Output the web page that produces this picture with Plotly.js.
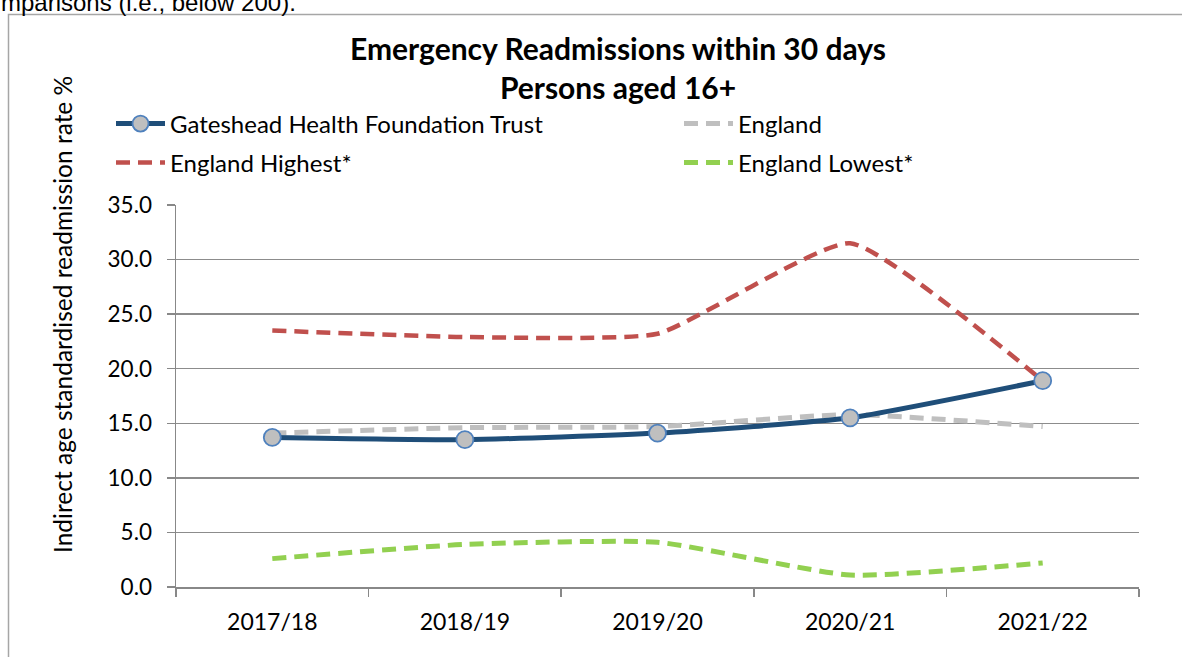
<!DOCTYPE html>
<html>
<head>
<meta charset="utf-8">
<script src="https://cdn.plot.ly/plotly-3.0.1.min.js"></script>
<style>html,body{margin:0;padding:0;background:#fff;}#chart{width:1182px;height:657px;}</style>
</head>
<body>
<div id="chart"></div>
<script>
const categories = ["2017/18", "2018/19", "2019/20", "2020/21", "2021/22"];
const gateshead = [13.7, 13.5, 14.1, 15.5, 18.9];
const england = [14.1, 14.6, 14.7, 15.8, 14.7];
const englandHighest = [23.5, 22.9, 23.2, 31.5, 18.9];
const englandLowest = [2.6, 3.9, 4.1, 1.1, 2.2];
const yTicks = [0, 5, 10, 15, 20, 25, 30, 35];

const FONT = "Lato, 'Open Sans', sans-serif";
const L = 176, R = 1139, T = 205, B = 587;
const W = R - L, H = B - T;
const px2x = p => (p - L) / W;
const px2y = p => (B - p) / H;

const dash = "14px,8px";
const traces = [
  {x: categories, y: england, name: "England", type: "scatter", mode: "lines",
   line: {color: "#BFBFBF", width: 5, dash: dash, shape: "spline", smoothing: 0.5}, legend: "legend2"},
  {x: categories, y: englandHighest, name: "England Highest*", type: "scatter", mode: "lines",
   line: {color: "#C0504D", width: 4.5, dash: dash, shape: "spline", smoothing: 0.45}, legend: "legend3"},
  {x: categories, y: englandLowest, name: "England Lowest*", type: "scatter", mode: "lines",
   line: {color: "#92D050", width: 5, dash: dash, shape: "spline", smoothing: 0.5}, legend: "legend4"},
  {x: categories, y: gateshead, name: "Gateshead Health Foundation Trust", type: "scatter", mode: "lines+markers",
   line: {color: "#1F4E79", width: 5, shape: "spline", smoothing: 0.5},
   marker: {size: 17, color: "#BFBFBF", line: {color: "#4F81BD", width: 1.8}}, legend: "legend"}
];

const legendCommon = {orientation: "h", xanchor: "left", yanchor: "middle",
  font: {family: FONT, size: 24, color: "#000"}, bgcolor: "rgba(0,0,0,0)", itemwidth: 49};

const layout = {
  width: 1182, height: 657,
  paper_bgcolor: "#fff", plot_bgcolor: "#fff",
  margin: {l: L, r: 1182 - R, t: T, b: 657 - B, autoexpand: false},
  title: {text: "<b>Emergency Readmissions within 30 days</b><br><b>Persons aged 16+</b>",
    font: {family: FONT, size: 30, color: "#000"}, xref: "container", yref: "container",
    x: 618 / 1182, y: 1 - 60 / 657, xanchor: "center", yanchor: "middle"},
  showlegend: true,
  legend: Object.assign({}, legendCommon, {x: px2x(111), y: px2y(124)}),
  legend2: Object.assign({}, legendCommon, {x: px2x(679), y: px2y(124)}),
  legend3: Object.assign({}, legendCommon, {x: px2x(111), y: px2y(163)}),
  legend4: Object.assign({}, legendCommon, {x: px2x(679), y: px2y(163)}),
  xaxis: {type: "category", tickson: "boundaries", ticks: "outside", ticklen: 8, tickcolor: "#888", tickwidth: 1.5,
    showline: true, linecolor: "#888", linewidth: 1.5, showgrid: false, zeroline: false, ticklabelstandoff: 14,
    tickfont: {family: FONT, size: 23, color: "#000"}, range: [-0.5, 4.5], automargin: false},
  yaxis: {range: [0, 35], tickvals: yTicks, tickformat: ".1f", ticks: "outside", ticklen: 8, tickcolor: "#888", tickwidth: 1.5,
    showline: true, linecolor: "#888", linewidth: 1.5, showgrid: true, gridcolor: "#8C8C8C", gridwidth: 1.5, zeroline: false,
    ticklabelstandoff: 10,
    tickfont: {family: FONT, size: 22.5, color: "#000"}, automargin: false},
  shapes: [
    {type: "rect", xref: "paper", yref: "paper", x0: px2x(8.5), x1: px2x(1250), y0: px2y(700), y1: px2y(14.5),
     line: {color: "#A6A6A6", width: 1.5}, fillcolor: "rgba(0,0,0,0)", layer: "below"}
  ],
  annotations: [
    {text: "Indirect age standardised readmission rate %", xref: "paper", yref: "paper", x: px2x(62), y: px2y(315),
     xanchor: "center", yanchor: "middle", textangle: -90, showarrow: false,
     font: {family: FONT, size: 24.5, color: "#000"}},
    {text: "mparisons (i.e., below 200).", xref: "paper", yref: "paper", x: px2x(-1), y: px2y(2.5), xanchor: "left", yanchor: "middle",
     showarrow: false, font: {family: "'Liberation Sans', Arial, sans-serif", size: 24, color: "#000"}}
  ]
};

Plotly.newPlot("chart", traces, layout, {displayModeBar: false, staticPlot: true});
</script>
</body>
</html>
